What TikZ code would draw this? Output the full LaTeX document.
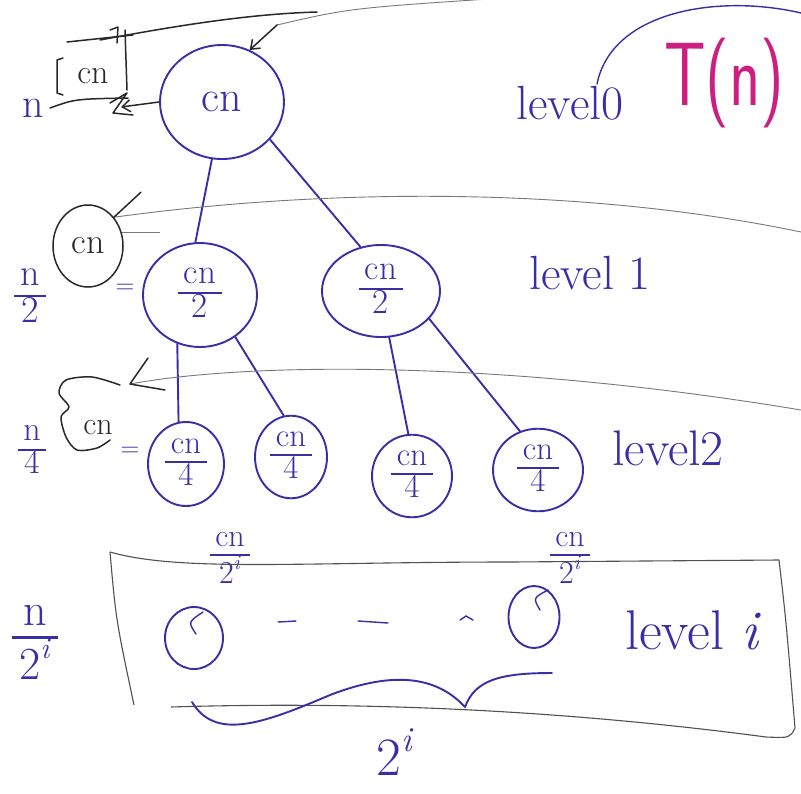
\documentclass[tikz,border=0pt]{standalone}
\usetikzlibrary{shapes.geometric,arrows.meta}
\definecolor{ink}{RGB}{58,46,168}
\definecolor{pen}{RGB}{40,40,40}
\definecolor{rulec}{RGB}{120,120,120}
\definecolor{boxc}{RGB}{80,80,80}
\definecolor{mag}{RGB}{205,30,130}
\tikzset{
 inkline/.style={draw=ink,line width=1.9pt,line cap=round},
 inkthin/.style={draw=ink,line width=1.4pt,line cap=round},
 penline/.style={draw=pen,line width=1.5pt,line cap=round,line join=round},
 ruleline/.style={draw=rulec,line width=0.9pt},
 boxline/.style={draw=boxc,line width=1.1pt,line join=round},
 nd/.style={ellipse,draw=ink,line width=1.9pt,inner sep=0pt,text=ink},
 lbl/.style={text=ink,inner sep=0pt},
 lev/.style={text=ink,inner sep=0pt},
 barb/.style={-{Straight Barb[length=8pt,width=12pt]}},
}
\newcommand{\fs}[1]{\fontsize{#1}{#1}\selectfont}
\newcommand{\frc}[2]{{\setlength{\arrayrulewidth}{0.06em}\renewcommand{\arraystretch}{0.8}\begin{tabular}{@{\,}c@{\,}}#1\\\hline #2\end{tabular}}}
\newcommand{\twoi}{2\raisebox{0.45em}{\scalebox{0.65}{\textit{i}}}}
\begin{document}
\begin{tikzpicture}[x=1pt,y=-1pt]
\useasboundingbox (0,0) rectangle (801,793);
\clip (0,0) rectangle (801,793);
\fill[white] (0,0) rectangle (801,793);

% ---- tree nodes
\node[nd,minimum width=124pt,minimum height=114pt,font=\fs{44}] (r) at (222,102) {cn};
\node[nd,minimum width=114pt,minimum height=104pt,font=\fs{35}] (a) at (200,295) {\frc{cn}{2}};
\node[nd,minimum width=118pt,minimum height=92pt,font=\fs{35}] (b) at (381,291) {\frc{cn}{2}};
\node[nd,minimum width=76pt,minimum height=84pt,font=\fs{33}] (a1) at (186,464) {\frc{cn}{4}};
\node[nd,minimum width=72pt,minimum height=80pt,font=\fs{33}] (a2) at (291,457) {\frc{cn}{4}};
\node[nd,minimum width=80pt,minimum height=82pt,font=\fs{33}] (b1) at (412,476) {\frc{cn}{4}};
\node[nd,minimum width=90pt,minimum height=76pt,font=\fs{33}] (b2) at (538,470) {\frc{cn}{4}};
\node[nd,minimum width=58pt,minimum height=62pt] (c1) at (194,638) {};
\node[nd,minimum width=51pt,minimum height=62pt] (c2) at (534,617) {};

% ---- tree edges
\draw[inkline] (r.-100) -- (a.95);
\draw[inkline] (r.-38) -- (b.115);
\draw[inkline] (a.-115) -- (a1.100);
\draw[inkline] (a.-50) -- (a2.100);
\draw[inkline] (b.-80) -- (b1.95);
\draw[inkline] (b.-30) -- (b2.115);

% marks inside the small level-i circles
\draw[inkthin] (203,612) .. controls (188,622) .. (196,634);
\draw[inkthin] (548,590) .. controls (533,598) .. (540,610);

% ---- level i labels above small circles
\node[lbl,font=\fs{32}] (f1) at (230,560) {\frc{cn}{\twoi}};
\node[lbl,font=\fs{32}] (f2) at (570,560) {\frc{cn}{\twoi}};
\draw[inkthin] (278,622) -- (296,621);
\draw[inkthin] (358,621) -- (388,623);
\draw[inkthin] (460,620) -- (466,616) -- (473,620);

% ---- left sizes
\node[lbl,font=\fs{42}] (n0) at (33,108) {n};
\node[lbl,font=\fs{38}] (n1) at (30,298) {\frc{n}{2}};
\node[lbl,font=\fs{34}] (n2) at (32,452) {\frc{n}{4}};
\node[lbl,font=\fs{46}] (n3) at (35,645) {\frc{n}{\twoi}};
\node[lbl,font=\fs{26}] (e1) at (125,289) {=};
\node[lbl,font=\fs{26}] (e2) at (130,452) {=};

% ---- level texts
\node[lev,font=\fs{48}] (l0) at (570,103) {level0};
\node[lev,font=\fs{48}] (l1) at (590,273) {level 1};
\node[lev,font=\fs{50}] (l2) at (668,448) {level2};
\node[lev,font=\fs{56}] (li) at (693,630) {level \textit{i}};
\node[text=mag,inner sep=0pt,anchor=west,font=\fs{90}\sffamily] (tn) at (664,83) {\scalebox{0.72}[1]{T(n)}};
\coordinate (lo) at (597,84);
\coordinate (te) at (801,13);
\draw[inkthin] (lo) .. controls (612,10) and (720,-6) .. (te);

% ---- ruled separator lines
\coordinate (tp) at (277,25);
\draw[ruleline] (tp) .. controls (350,8) .. (520,-3);
\draw[penline] (100,40) .. controls (180,25) and (250,14) .. (317,12);
\draw[penline,barb] (tp) -- (r.62);

% top-left box with cn
\node[text=pen,inner sep=0pt,font=\fs{34}] (bx) at (93,76) {cn};
\draw[penline] (63,58) -- (57,60) -- (57,93) -- (63,95);
\draw[penline] (67,42) -- (133,35);
\draw[penline] (125,30) -- (127,90);
\draw[penline] (110,30) -- (118,27) -- (117,43);
\draw[penline] (50,108) .. controls (75,99) .. (128,98);
\draw[penline] (110,103) -- (127,93) -- (113,113) -- (133,115);
\coordinate (ba) at (121,107);
\draw[penline,barb] (r.west) -- (ba);

% level 1 black circle
\node[ellipse,draw=pen,line width=1.5pt,inner sep=0pt,minimum width=70pt,minimum height=82pt,text=pen,font=\fs{36}] (k1) at (88,246) {cn};
\draw[ruleline] (k1.48) .. controls (350,185) and (600,190) .. (801,232);
\draw[penline] (k1.48) -- ++(27,-25);
\draw[ruleline] (k1.22) -- ++(38,0);

% level 2 black scribble with cn
\node[text=pen,inner sep=0pt,font=\fs{32}] (k2) at (98,428) {cn};
\draw[penline] plot[smooth] coordinates {(120,385) (92,377) (66,380) (59,393) (69,407) (61,417) (66,437) (77,450) (97,448) (110,440)};
\coordinate (q2) at (130,384);
\draw[ruleline] (q2) .. controls (250,362) and (500,360) .. (801,410);
\draw[penline] (148,358) -- (q2) -- (165,390);

% ---- level i box
\draw[boxline] (110,552) .. controls (180,572) and (300,562) .. (511,562) -- (779,560) .. controls (786,620) .. (795,728) .. controls (790,738) .. (766,737) .. controls (600,715) and (400,700) .. (171,707);
\draw[boxline] (110,552) .. controls (116,620) .. (134,705);

% brace and count
\draw[inkline] (192,702) .. controls (215,740) and (260,725) .. (330,695) .. controls (400,668) and (440,680) .. (465,707);
\draw[inkline] (465,707) .. controls (475,680) and (500,673) .. (552,673);
\node[lbl,font=\fs{54}] (cnt) at (395,752) {\twoi};
\end{tikzpicture}
\end{document}
